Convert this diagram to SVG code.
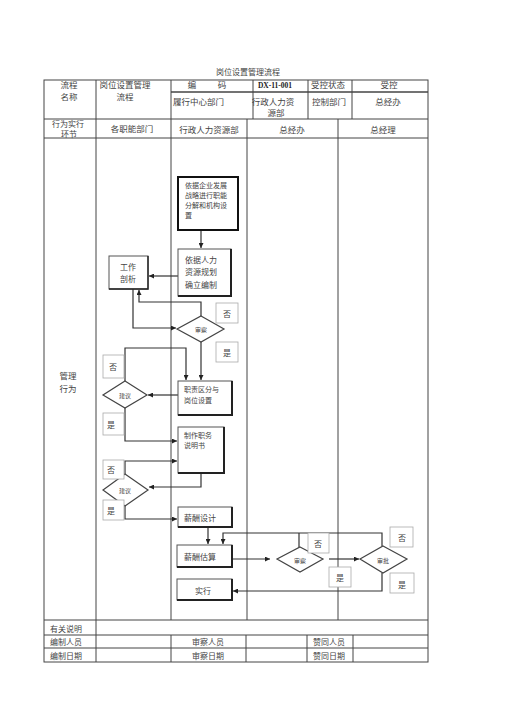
<svg xmlns="http://www.w3.org/2000/svg" width="505" height="714" viewBox="0 0 505 714">
<defs>
<marker id="ah" viewBox="0 0 10 10" refX="10" refY="5" markerWidth="5" markerHeight="5" orient="auto" markerUnits="userSpaceOnUse"><path d="M0,0 L10,5 L0,10 z" fill="#222"/></marker>
<style>
text{font-family:"Noto Sans CJK SC","Noto Sans",sans-serif;fill:#444;dominant-baseline:central}
.t9{font-size:8.5px}
.t8{font-size:8px}
.t7{font-size:7px}
.t6{font-size:6px}
.c{text-anchor:middle}
.tb{stroke:#444;stroke-width:1;fill:none}
.ln{stroke:#333;stroke-width:1.2;fill:none}
.arr{stroke:#333;stroke-width:1.2;fill:none;marker-end:url(#ah)}
.box{fill:#fff;stroke:#555;stroke-width:1}
.sh{stroke:#222;stroke-width:2;fill:none}
.lab{fill:#fff;stroke:#aaa;stroke-width:0.8}
.dia{fill:#fff;stroke:#444;stroke-width:1.2}
</style>
</defs>
<rect width="505" height="714" fill="#fff"/>
<text class="t8 c" x="248" y="71">岗位设置管理流程</text>
<g id="table">
<rect class="tb" x="44" y="80" width="384" height="582"/>
<line class="tb" x1="171" y1="92" x2="428" y2="92" style="stroke-width:1.6"/>
<line class="tb" x1="44" y1="119" x2="428" y2="119"/>
<line class="tb" x1="44" y1="138" x2="428" y2="138"/>
<line class="tb" x1="44" y1="620" x2="428" y2="620"/>
<line class="tb" x1="44" y1="635" x2="428" y2="635"/>
<line class="tb" x1="44" y1="648" x2="428" y2="648"/>
<path class="tb" d="M96,80V119M171,80V119M253,80V119M308,80V119M352,80V119"/>
<path class="tb" d="M96,119V635M171,119V620M247,119V620M338,119V620"/>
<path class="tb" d="M96,635V662M171,635V662M246,635V662M307,635V662M353,635V662"/>
<text class="t9 c" x="69" y="84">流程</text>
<text class="t9 c" x="69" y="95.5">名称</text>
<text class="t9 c" x="125" y="84">岗位设置管理</text>
<text class="t9 c" x="125" y="95.5">流程</text>
<text class="t9 c" x="192" y="84">编</text>
<text class="t9 c" x="222" y="84">码</text>
<text x="275" y="85" style="font-family:'Liberation Serif',serif;font-weight:bold;font-size:7.5px;text-anchor:middle;fill:#222">DX-11-001</text>
<text class="t9 c" x="328" y="84">受控状态</text>
<text class="t9 c" x="389" y="84">受控</text>
<text class="t9" x="173" y="101">履行中心部门</text>
<text class="t9 c" x="273" y="101">行政人力资</text>
<text class="t9 c" x="276" y="112">源部</text>
<text class="t9" x="312" y="101">控制部门</text>
<text class="t9 c" x="388" y="101">总经办</text>
<text class="t8 c" x="68" y="123">行为实行</text>
<text class="t8 c" x="69" y="133.5">环节</text>
<text class="t9 c" x="132" y="128">各职能部门</text>
<text class="t9 c" x="209" y="129">行政人力资源部</text>
<text class="t9 c" x="292" y="129">总经办</text>
<text class="t9 c" x="383" y="129">总经理</text>
<text class="t9 c" x="68" y="375">管理</text>
<text class="t9 c" x="68" y="388">行为</text>
<text class="t8" x="50" y="628">有关说明</text>
<text class="t8" x="50" y="641">编制人员</text>
<text class="t8 c" x="208" y="641">审察人员</text>
<text class="t8 c" x="329" y="641">赞同人员</text>
<text class="t8" x="50" y="655">编制日期</text>
<text class="t8 c" x="208" y="655">审察日期</text>
<text class="t8 c" x="329" y="655">赞同日期</text>
</g>
<g id="connectors">
<path class="arr" d="M201,231V248"/>
<path class="arr" d="M178,276H149"/>
<path class="arr" d="M133,289V328H176"/>
<path class="arr" d="M201,316V302H139V290"/>
<path class="arr" d="M201,342V380"/>
<path class="arr" d="M178,395H148"/>
<path class="arr" d="M125,381V348H186V380"/>
<path class="arr" d="M125,408V441H177"/>
<path class="arr" d="M125,474V461H177"/>
<path class="arr" d="M201,473V487H149"/>
<path class="arr" d="M125,506V519H177"/>
<path class="arr" d="M208,527V544"/>
<path class="arr" d="M382,546V533H223V544"/>
<path class="ln" d="M299,547V533"/>
<path class="arr" d="M232,559H270"/>
<path class="arr" d="M329,559H359"/>
<path class="arr" d="M382,573V591H233"/>
</g>
<g id="n1">
<rect x="178" y="177" width="60" height="53" fill="#fff" stroke="#111" stroke-width="2"/>
<text class="t7" x="185" y="185">依据企业发展</text>
<text class="t7" x="185" y="195">战略进行职能</text>
<text class="t7" x="185" y="205">分解和机构设</text>
<text class="t7" x="185" y="215">置</text>
</g>
<g id="n2">
<rect class="box" x="178" y="249" width="53" height="47"/>
<path class="sh" d="M231,249V296H178"/>
<text class="t8" x="185" y="259">依据人力</text>
<text class="t8" x="185" y="271">资源规划</text>
<text class="t8" x="185" y="284">确立编制</text>
</g>
<g id="n3">
<rect class="box" x="109" y="256" width="39" height="33"/>
<path class="sh" d="M148,256V289H109" style="stroke-width:1.4"/>
<text class="t8" x="120" y="266">工作</text>
<text class="t8" x="120" y="278">剖析</text>
</g>
<g id="d1">
<polygon class="dia" points="201,316 224,329 201,342 177,329"/>
<text class="t6 c" x="201" y="329">审察</text>
</g>
<g id="n4">
<rect class="box" x="178" y="381" width="54" height="34"/>
<path class="sh" d="M232,381V415H178"/>
<text class="t7" x="184" y="389">职责区分与</text>
<text class="t7" x="184" y="400">岗位设置</text>
</g>
<g id="d2">
<polygon class="dia" points="125,381 147,395 125,408 103,395"/>
<text class="t6 c" x="125" y="395">建议</text>
</g>
<g id="n5">
<rect class="box" x="178" y="427" width="46" height="46"/>
<path class="sh" d="M224,427V473H178"/>
<text class="t7" x="184" y="435">制作职务</text>
<text class="t7" x="184" y="445">说明书</text>
</g>
<g id="d3">
<polygon class="dia" points="125,474 148,490 125,506 103,490"/>
<text class="t6 c" x="125" y="490">建议</text>
</g>
<g id="n6">
<rect class="box" x="178" y="507" width="54" height="20"/>
<path class="sh" d="M232,507V527H178"/>
<text class="t8" x="184" y="517">薪酬设计</text>
</g>
<g id="n7">
<rect class="box" x="177" y="545" width="55" height="22"/>
<path class="sh" d="M232,545V567H177"/>
<text class="t8" x="184" y="556">薪酬估算</text>
</g>
<g id="n8">
<rect class="box" x="177" y="579" width="55" height="21"/>
<path class="sh" d="M232,579V600H177"/>
<text class="t8 c" x="203" y="590">实行</text>
</g>
<g id="d4">
<polygon class="dia" points="300,547 323,559 300,572 277,559"/>
<text class="t6 c" x="300" y="560">审察</text>
</g>
<g id="d5">
<polygon class="dia" points="383,546 407,559 383,573 360,559"/>
<text class="t6 c" x="383" y="560">审批</text>
</g>
<g id="labels">
<rect class="lab" x="216" y="303" width="22" height="20"/><text class="t8 c" x="227" y="313">否</text>
<rect class="lab" x="216" y="342" width="22" height="20"/><text class="t8 c" x="227" y="352">是</text>
<rect class="lab" x="103" y="355" width="21" height="23"/><text class="t8 c" x="113" y="366">否</text>
<rect class="lab" x="103" y="413" width="21" height="22"/><text class="t8 c" x="111" y="424">是</text>
<rect class="lab" x="103" y="460" width="21" height="19"/><text class="t8 c" x="111" y="469">否</text>
<rect class="lab" x="103" y="500" width="21" height="20"/><text class="t8 c" x="111" y="510">是</text>
<rect class="lab" x="308" y="533" width="21" height="20"/><text class="t8 c" x="318" y="543">否</text>
<rect class="lab" x="329" y="567" width="22" height="20"/><text class="t8 c" x="340" y="577">是</text>
<rect class="lab" x="390" y="527" width="23" height="20"/><text class="t8 c" x="402" y="537">否</text>
<rect class="lab" x="390" y="573" width="24" height="20"/><text class="t8 c" x="402" y="584">是</text>
</g>
</svg>
